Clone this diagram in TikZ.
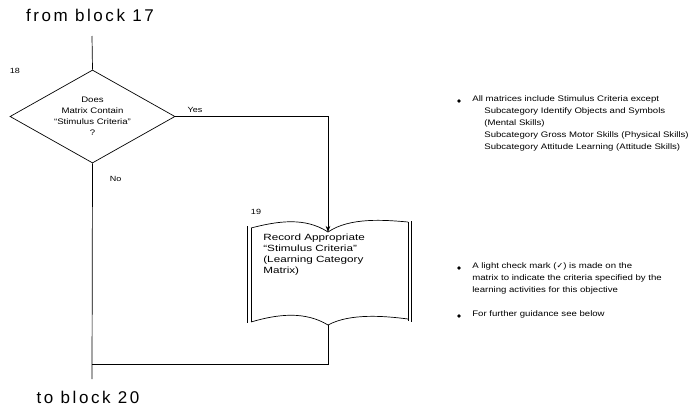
\documentclass[tikz,border=0pt]{standalone}
\usepackage{fontspec}
\setmainfont{Liberation Sans}
\newfontfamily\scanfont[FakeStretch=1.2]{Liberation Sans}
\newfontfamily\bookfont[FakeStretch=1.3]{Liberation Sans}
\newfontfamily\headfont[LetterSpace=15]{Liberation Sans}
\newfontfamily\symfont{DejaVu Sans}
\usetikzlibrary{arrows.meta, shapes.geometric}

\begin{document}
\begin{tikzpicture}[>=Stealth, x=1pt, y=-1pt, line width=0.7pt,
  decision/.style={diamond, draw, aspect=1.77, minimum width=165pt,
    minimum height=93pt, inner sep=0pt, align=center,
    font=\scanfont\fontsize{8}{11}\selectfont},
  heading/.style={inner sep=0pt, font=\headfont\fontsize{17}{20}\selectfont},
  tag/.style={inner sep=0pt, font=\scanfont\fontsize{7.5}{9}\selectfont},
  branch/.style={inner sep=0pt, font=\scanfont\fontsize{7.5}{9}\selectfont},
  booktext/.style={inner sep=0pt, align=left, anchor=north west,
    font=\bookfont\fontsize{9}{10.8}\selectfont},
  note/.style={inner sep=0pt, align=left, anchor=north west,
    font=\scanfont\fontsize{8}{12}\selectfont},
  dot/.style={circle, fill, inner sep=0pt, minimum size=3.6pt}]
  \useasboundingbox (0,0) rectangle (699,407);

  % Node positions
  \node[heading] (h17) at (90,15) {from block 17};
  \node[heading] (h20) at (88,397) {to block 20};
  \coordinate (from17) at (92,36);
  \coordinate (to20) at (92,379);
  \coordinate (join) at (92,364);

  \node[decision] (d18) at (92.5,116.5) {Does\\Matrix Contain\\“Stimulus Criteria”\\?};
  \node[tag] (t18) at (15,71) {18};

  % Manual document block
  \node[tag] (t19) at (256,212) {19};
  \coordinate (top19) at (328,232);
  \coordinate (bot19) at (328,325);
  \draw (247,226) -- (247,323);
  \draw (251,228) -- (251,322);
  \draw (408,222) -- (408,321);
  \draw (411,221) -- (411,322);
  \draw (251,228) .. controls (278,221) and (305,217) .. (top19)
        .. controls (350,217) and (385,220) .. (408,222);
  \draw (251,322) .. controls (278,314) and (305,311) .. (bot19)
        .. controls (350,313) and (385,316) .. (408,319);
  \node[booktext] (b19) at (263,234) {Record Appropriate\\“Stimulus Criteria”\\(Learning Category\\Matrix)};

  % Transitions
  \draw (from17) -- (d18.north);
  \draw[->] (d18.east) node[branch, anchor=south west, xshift=12pt, yshift=4pt] {Yes} -| (top19);
  \draw (d18.south) node[branch, anchor=north west, xshift=17pt, yshift=-13pt] {No} -- (to20);
  \draw (bot19) |- (join);

  % Notes
  \node[dot] (p1) at (459,101) {};
  \node[note] (n1) at (472,95) {All matrices include Stimulus Criteria except\\
    \hspace*{12pt}Subcategory Identify Objects and Symbols\\
    \hspace*{12pt}(Mental Skills)\\
    \hspace*{12pt}Subcategory Gross Motor Skills (Physical Skills)\\
    \hspace*{12pt}Subcategory Attitude Learning (Attitude Skills)};
  \node[dot] (p2) at (459,268) {};
  \node[note] (n2) at (472,262) {A light check mark ({\symfont ✓}) is made on the\\
    matrix to indicate the criteria specified by the\\
    learning activities for this objective};
  \node[dot] (p3) at (459,316) {};
  \node[note] (n3) at (472,310) {For further guidance see below};
\end{tikzpicture}
\end{document}
